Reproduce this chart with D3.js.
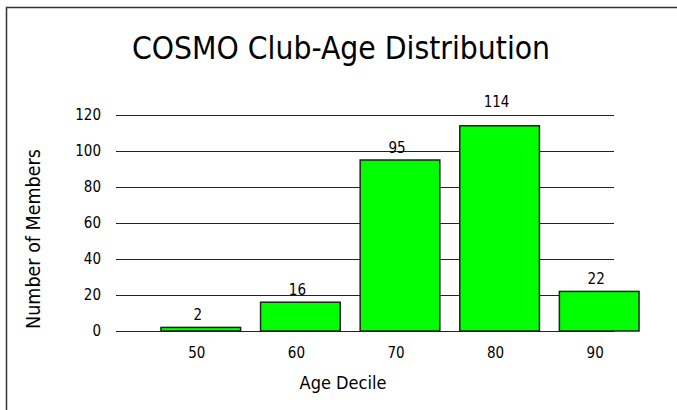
<!DOCTYPE html>
<html>
<head>
<meta charset="utf-8">
<script src="https://cdn.jsdelivr.net/npm/d3@7/dist/d3.min.js"></script>
<style>
  body { margin: 0; background: #fff; }
  svg text { font-family: Tahoma, "DejaVu Sans Condensed", "DejaVu Sans", sans-serif; fill: #000; }
</style>
</head>
<body>
<svg id="chart"></svg>
<script>
var deciles = ["50", "60", "70", "80", "90"];
var members = [2, 16, 95, 114, 22];
var yTicks = [0, 20, 40, 60, 80, 100, 120];

var W = 677, H = 410;
var svg = d3.select("#chart").attr("width", W).attr("height", H);

// frame: only top and left edges show
svg.append("path")
  .attr("d", "M6.5," + H + "V7.5H" + W)
  .attr("fill", "none")
  .attr("stroke", "#333")
  .attr("stroke-width", 1.5);

// plot area (gridlines) and the shifted bar area
var gridLeft = 116, gridRight = 614;
var y = d3.scaleLinear().domain([0, 120]).range([331, 115]);
var x = d3.scaleBand().domain(deciles).range([151, 649]).paddingInner(0.2).paddingOuter(0.1);

// gridlines
svg.append("g").selectAll("line")
  .data(yTicks)
  .join("line")
  .attr("x1", gridLeft).attr("x2", gridRight)
  .attr("y1", d => Math.round(y(d)) + 0.5).attr("y2", d => Math.round(y(d)) + 0.5)
  .attr("stroke", "#222")
  .attr("stroke-width", 1);

// y tick labels
svg.append("g").selectAll("text")
  .data(yTicks)
  .join("text")
  .attr("x", 101)
  .attr("y", d => y(d))
  .attr("dy", "0.36em")
  .attr("text-anchor", "end")
  .attr("font-size", 15)
  .text(d => d);

// bars
svg.append("g").selectAll("rect")
  .data(members)
  .join("rect")
  .attr("x", (d, i) => x(deciles[i]))
  .attr("y", d => y(d))
  .attr("width", x.bandwidth())
  .attr("height", d => y(0) - y(d))
  .attr("fill", "#00ff00")
  .attr("stroke", "#222")
  .attr("stroke-width", 1.5);

// value labels; one that would sit on the top gridline goes above it
var yTop = y(120);
svg.append("g").selectAll("text")
  .data(members)
  .join("text")
  .attr("x", (d, i) => x(deciles[i]) + x.bandwidth() / 2 - 3)
  .attr("y", d => (y(d) - yTop < 14) ? yTop - 8 : y(d) - 7)
  .attr("text-anchor", "middle")
  .attr("font-size", 15)
  .text(d => d);

// x tick labels
svg.append("g").selectAll("text")
  .data(deciles)
  .join("text")
  .attr("x", d => x(d) + x.bandwidth() / 2 - 4)
  .attr("y", 358)
  .attr("text-anchor", "middle")
  .attr("font-size", 15)
  .text(d => d);

// titles
svg.append("text")
  .attr("x", 341).attr("y", 59)
  .attr("text-anchor", "middle")
  .attr("font-size", 31.5)
  .text("COSMO Club-Age Distribution");

svg.append("text")
  .attr("x", 343).attr("y", 389)
  .attr("text-anchor", "middle")
  .attr("font-size", 18)
  .text("Age Decile");

svg.append("text")
  .attr("transform", "translate(40,239) rotate(-90)")
  .attr("text-anchor", "middle")
  .attr("font-size", 19.5)
  .text("Number of Members");
</script>
</body>
</html>
